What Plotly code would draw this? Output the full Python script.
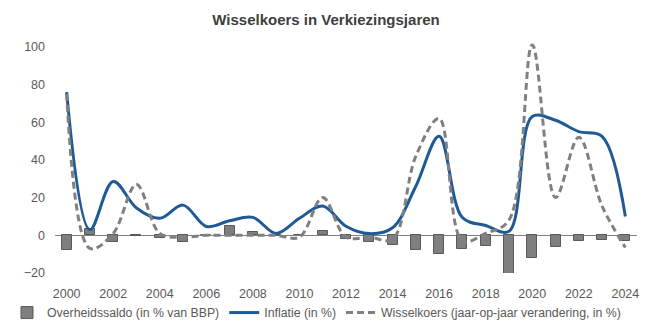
import plotly.graph_objects as go

years = list(range(2000, 2025))
overheidssaldo = [-8, 3.5, -3.5, -0.3, -1.3, -3.8, 0.3, 4.8, 2, -0.4, 0, 2.1,
                  -2, -3.5, -5, -7.8, -9.7, -7.4, -5.7, -20.5, -12.2, -6, -3.2, -2.3, -3]
inflatie = [76, 3, 28.5, 14.5, 9, 16, 4.7, 7.7, 9.5, 1, 9, 15.5,
            4.8, 0.9, 4, 26, 52.5, 9.4, 5.2, 2.1, 63, 61, 55, 52.5, 10]
wisselkoers = [75, -7, 1, 27, 1, -1, 0, 0, 0, 0, -1, 20,
               -1, -1, -2, 42, 62, -3, 1, 8, 101, 20, 52, 15.5, -6.5]

tick_years = list(range(2000, 2025, 2))
tick_y = [-20, 0, 20, 40, 60, 80, 100]

FONT = "Liberation Sans, Arial, sans-serif"

fig = go.Figure()
fig.add_trace(go.Bar(
    x=years, y=overheidssaldo, name="Overheidssaldo (in % van BBP)",
    width=0.43, marker=dict(color="#7f7f7f", line=dict(color="#595959", width=1)),
))
fig.add_trace(go.Scatter(
    x=years, y=inflatie, name="Inflatie (in %)", mode="lines",
    line=dict(color="#1f5a96", width=3, shape="spline", smoothing=1.0),
))
fig.add_trace(go.Scatter(
    x=years, y=wisselkoers, name="Wisselkoers (jaar-op-jaar verandering, in %)", mode="lines",
    line=dict(color="#808080", width=3, shape="spline", smoothing=1.0, dash="7px,4px"),
    cliponaxis=False,
))

fig.update_layout(
    width=652, height=332,
    margin=dict(l=55, r=15, t=43, b=59, autoexpand=False),
    paper_bgcolor="white", plot_bgcolor="white",
    font=dict(family=FONT, size=12.5, color="#595959"),
    title=dict(text="<b>Wisselkoers in Verkiezingsjaren</b>", x=0.5, xref="container",
               y=1 - 20 / 332, yref="container", yanchor="middle", xanchor="center",
               font=dict(family=FONT, size=15, color="#404040")),
    showlegend=True,
    legend=dict(orientation="h", xref="paper", x=-0.0825, xanchor="left",
                yref="paper", y=-0.109, yanchor="top",
                font=dict(family=FONT, size=12.3, color="#595959"),
                traceorder="normal", itemwidth=30, tracegroupgap=0),
    bargap=0,
)
fig.update_xaxes(range=[1999.5, 2024.5], tickvals=tick_years, ticktext=[str(t) for t in tick_years],
                 showgrid=False, showline=False, zeroline=False, ticks="",
                 ticklabelstandoff=11, tickfont=dict(size=12.5, color="#595959"))
fig.update_yaxes(range=[-20, 102], tickvals=tick_y, showgrid=False, showline=False,
                 zeroline=True, zerolinecolor="#808080", zerolinewidth=1, ticks="",
                 ticklabelstandoff=9, tickfont=dict(size=12.5, color="#595959"))

fig.write_html("out.html")
